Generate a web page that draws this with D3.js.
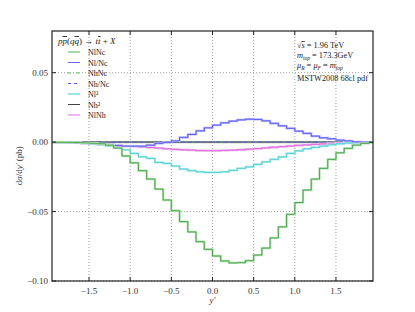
<!DOCTYPE html>
<html>
<head>
<meta charset="utf-8">
<script src="https://cdn.jsdelivr.net/npm/d3@7"></script>
<style>
  body { margin: 0; background: #fff; }
  text { font-family: "Liberation Serif", "DejaVu Serif", serif; }
</style>
</head>
<body>
<div id="chart"></div>
<script>
// bin left edges (width 0.1)
var binEdges = [-2.0, -1.9, -1.8, -1.7, -1.6, -1.5, -1.4, -1.3, -1.2, -1.1,
  -1.0, -0.9, -0.8, -0.7, -0.6, -0.5, -0.4, -0.3, -0.2, -0.1,
  0.0, 0.1, 0.2, 0.3, 0.4, 0.5, 0.6, 0.7, 0.8, 0.9,
  1.0, 1.1, 1.2, 1.3, 1.4, 1.5, 1.6, 1.7, 1.8, 1.9];
var binWidth = 0.1;

// series (pb per bin)
var NlNc = [0, -0.0001, -0.0002, -0.0003, -0.0005, -0.0008, -0.0012, -0.0022, -0.0043, -0.0100,
  -0.0149, -0.0206, -0.0266, -0.0338, -0.0417, -0.0494, -0.0573, -0.0647, -0.0717, -0.0772,
  -0.0820, -0.0856, -0.0870, -0.0868, -0.0854, -0.0813, -0.0763, -0.0690, -0.0610, -0.0520,
  -0.0435, -0.0345, -0.0266, -0.0189, -0.0124, -0.0077, -0.0045, -0.0022, -0.0009, -0.0003];
var NlOverNc = [0, -0.0001, -0.0002, -0.0005, -0.0007, -0.0009, -0.0014, -0.0019, -0.0025, -0.0029,
  -0.0029, -0.0029, -0.0022, -0.0009, -0.0002, 0.0009, 0.0034, 0.0055, 0.0081, 0.0103,
  0.0122, 0.0139, 0.0151, 0.0160, 0.0165, 0.0163, 0.0153, 0.0135, 0.0117, 0.0099,
  0.0079, 0.0063, 0.0043, 0.0031, 0.0024, 0.0014, 0.0009, 0.0002, 0.0000, 0];
var NhNc = [0, 0, 0, 0, 0, 0, 0, 0, 0, 0, 0, 0, 0, 0, 0, 0, 0, 0, 0, 0,
  0, 0, 0, 0, 0, 0, 0, 0, 0, 0, 0, 0, 0, 0, 0, 0, 0, 0, 0, 0];
var NhOverNc = [0, 0, 0, 0, 0, 0, 0, 0, 0, 0, 0, 0, 0, 0, 0, 0, 0, 0, 0, 0,
  0, 0, 0, 0, 0, 0, 0, 0, 0, 0, 0, 0, 0, 0, 0, 0, 0, 0, 0, 0];
var Nl2 = [0, -0.0001, -0.0002, -0.0004, -0.0007, -0.0011, -0.0018, -0.0027, -0.0041, -0.0056,
  -0.0081, -0.0106, -0.0117, -0.0146, -0.0153, -0.0173, -0.0194, -0.0206, -0.0214, -0.0218,
  -0.0218, -0.0214, -0.0204, -0.0189, -0.0178, -0.0160, -0.0142, -0.0124, -0.0106, -0.0081,
  -0.0063, -0.0048, -0.0038, -0.0029, -0.0019, -0.0012, -0.0007, -0.0004, -0.0001, 0];
var Nh2 = [0, 0, 0, 0, 0, 0, 0, 0, 0, 0, 0, 0, 0, 0, 0, 0, 0, 0, 0, 0,
  0, 0, 0, 0, 0, 0, 0, 0, 0, 0, 0, 0, 0, 0, 0, 0, 0, 0, 0, 0];
var NlNh = [0, -0.0002, -0.0004, -0.0006, -0.0009, -0.0012, -0.0015, -0.0019, -0.0023, -0.0027,
  -0.0031, -0.0035, -0.0039, -0.0043, -0.0048, -0.0052, -0.0056, -0.0058, -0.0061, -0.0062,
  -0.0062, -0.0060, -0.0058, -0.0055, -0.0051, -0.0047, -0.0042, -0.0037, -0.0033, -0.0028,
  -0.0023, -0.0020, -0.0016, -0.0013, -0.0010, -0.0008, -0.0006, -0.0004, -0.0002, 0];

var xTicks = [-1.5, -1.0, -0.5, 0.0, 0.5, 1.0, 1.5];
var yTicks = [-0.10, -0.05, 0.00, 0.05];

var legendLabels = ["NlNc", "Nl/Nc", "NhNc", "Nh/Nc", "Nl²", "Nh²", "NlNh"];

var W = 415, H = 312;
var margin = { top: 31, right: 42, bottom: 31, left: 52 };
var width = W - margin.left - margin.right,
  height = H - margin.top - margin.bottom;

var svg = d3.select("#chart").append("svg")
  .attr("width", W).attr("height", H);

var g = svg.append("g")
  .attr("transform", "translate(" + margin.left + "," + margin.top + ")");

var x = d3.scaleLinear().domain([-1.95, 1.95]).range([0, width]);
var y = d3.scaleLinear().domain([-0.10, 0.08]).range([height, 0]);

// grid
g.append("g").selectAll("line").data(xTicks).enter().append("line")
  .attr("x1", function (d) { return x(d); }).attr("x2", function (d) { return x(d); })
  .attr("y1", 0).attr("y2", height)
  .attr("stroke", "#888").attr("stroke-width", 0.8).attr("stroke-dasharray", "1,2");
g.append("g").selectAll("line").data(yTicks).enter().append("line")
  .attr("y1", function (d) { return y(d); }).attr("y2", function (d) { return y(d); })
  .attr("x1", 0).attr("x2", width)
  .attr("stroke", "#888").attr("stroke-width", 0.8).attr("stroke-dasharray", "1,2");

g.append("clipPath").attr("id", "clip").append("rect")
  .attr("width", width).attr("height", height);

var plot = g.append("g").attr("clip-path", "url(#clip)");

var stepLine = d3.line()
  .x(function (d) { return x(d[0]); })
  .y(function (d) { return y(d[1]); })
  .curve(d3.curveStepAfter);

function pts(vals) {
  var p = binEdges.map(function (e, i) { return [e, vals[i]]; });
  p.push([binEdges[binEdges.length - 1] + binWidth, vals[vals.length - 1]]);
  return p;
}

// zero-ish series first
plot.append("path").attr("d", stepLine(pts(Nh2)))
  .attr("fill", "none").attr("stroke", "#aaa").attr("stroke-width", 2.2);
plot.append("path").attr("d", stepLine(pts(Nh2)))
  .attr("fill", "none").attr("stroke", "#444").attr("stroke-width", 0.9);
plot.append("path").attr("d", stepLine(pts(NhNc)))
  .attr("fill", "none").attr("stroke", "#5aaa5a").attr("stroke-width", 0.9)
  .attr("stroke-dasharray", "4,2,1,2");
plot.append("path").attr("d", stepLine(pts(NhOverNc)))
  .attr("fill", "none").attr("stroke", "#5a5aee").attr("stroke-width", 0.9)
  .attr("stroke-dasharray", "4,3");

var series = [
  { v: NlNh, light: "#f0b8f0", dark: "#d860d8" },
  { v: Nl2, light: "#b4eeee", dark: "#48cccc" },
  { v: NlOverNc, light: "#b8b8ff", dark: "#5555ee" },
  { v: NlNc, light: "#b4e0b4", dark: "#44a044" }
];
series.forEach(function (s) {
  plot.append("path").attr("d", stepLine(pts(s.v)))
    .attr("fill", "none").attr("stroke", s.light).attr("stroke-width", 2.3);
  plot.append("path").attr("d", stepLine(pts(s.v)))
    .attr("fill", "none").attr("stroke", s.dark).attr("stroke-width", 0.9);
});

// frame
g.append("rect").attr("width", width).attr("height", height)
  .attr("fill", "none").attr("stroke", "#222").attr("stroke-width", 1.2);

// inward ticks all sides
var tk = g.append("g").attr("stroke", "#222").attr("stroke-width", 1);
xTicks.forEach(function (d) {
  tk.append("line").attr("x1", x(d)).attr("x2", x(d)).attr("y1", height).attr("y2", height - 4);
  tk.append("line").attr("x1", x(d)).attr("x2", x(d)).attr("y1", 0).attr("y2", 4);
});
yTicks.forEach(function (d) {
  tk.append("line").attr("y1", y(d)).attr("y2", y(d)).attr("x1", 0).attr("x2", 4);
  tk.append("line").attr("y1", y(d)).attr("y2", y(d)).attr("x1", width).attr("x2", width - 4);
});

var fmt = function (d) { return (d < 0 ? "\u2212" : "") + Math.abs(d).toFixed(1); };
var fmtY = function (d) { return (d < 0 ? "\u2212" : "") + Math.abs(d).toFixed(2); };

g.append("g").selectAll("text").data(xTicks).enter().append("text")
  .attr("x", function (d) { return x(d); }).attr("y", height + 13)
  .attr("text-anchor", "middle").attr("font-size", 9).attr("fill", "#333")
  .text(fmt);
g.append("g").selectAll("text").data(yTicks).enter().append("text")
  .attr("x", -4).attr("y", function (d) { return y(d) + 3; })
  .attr("text-anchor", "end").attr("font-size", 9).attr("fill", "#333")
  .text(fmtY);

// axis labels
var yl = svg.append("text")
  .attr("transform", "translate(22," + (margin.top + y(-0.017)) + ") rotate(-90)")
  .attr("text-anchor", "middle").attr("font-size", 9).attr("fill", "#333");
yl.append("tspan").text("d");
yl.append("tspan").attr("font-style", "italic").text("σ");
yl.append("tspan").text("/d");
yl.append("tspan").attr("font-style", "italic").text("y′");
yl.append("tspan").text("  (pb)");

svg.append("text").attr("x", margin.left + x(0)).attr("y", H - 9)
  .attr("text-anchor", "middle").attr("font-size", 9).attr("font-style", "italic")
  .attr("fill", "#333").text("y′");

// process title
var tt = g.append("text").attr("x", 6).attr("y", 13).attr("font-size", 9).attr("fill", "#222");
function bar(t, s) {
  t.append("tspan").attr("font-style", "italic").attr("text-decoration", "overline").text(s);
}
tt.append("tspan").attr("font-style", "italic").text("p");
bar(tt, "p");
tt.append("tspan").text("(");
tt.append("tspan").attr("font-style", "italic").text("q");
bar(tt, "q");
tt.append("tspan").text(") \u2192 ");
tt.append("tspan").attr("font-style", "italic").text("t");
bar(tt, "t");
tt.append("tspan").text(" + ");
tt.append("tspan").attr("font-style", "italic").text("X");

// legend
var legStyles = [
  { c: "#88cc88", w: 1.5, dash: null },
  { c: "#6666ee", w: 1, dash: null },
  { c: "#88cc88", w: 1.5, dash: "3,2,1,2" },
  { c: "#5555ee", w: 1, dash: "3,3" },
  { c: "#99e6e6", w: 2, dash: null },
  { c: "#444", w: 1, dash: null },
  { c: "#e070e0", w: 1, dash: null }
];
var leg = g.append("g").attr("transform", "translate(16,21)");
legendLabels.forEach(function (lab, i) {
  var yy = i * 10.5;
  var st = legStyles[i];
  var ln = leg.append("line").attr("x1", 0).attr("x2", 12).attr("y1", yy).attr("y2", yy)
    .attr("stroke", st.c).attr("stroke-width", st.w);
  if (st.dash) ln.attr("stroke-dasharray", st.dash);
  leg.append("text").attr("x", 20).attr("y", yy + 3).attr("font-size", 8).attr("fill", "#222")
    .text(lab);
});

// parameters box
var info = g.append("g").attr("transform", "translate(" + (width - 76) + ",17)")
  .attr("font-size", 8.3).attr("fill", "#222");
var t1 = info.append("text").attr("y", 0);
t1.append("tspan").text("\u221A");
t1.append("tspan").attr("font-style", "italic").attr("text-decoration", "overline").text("s");
t1.append("tspan").text(" = 1.96 TeV");
var t2 = info.append("text").attr("y", 10);
t2.append("tspan").attr("font-style", "italic").text("m");
t2.append("tspan").attr("font-size", 5.5).attr("font-style", "italic").attr("dy", 2).text("top");
t2.append("tspan").attr("dy", -2).text(" = 173.3GeV");
var t3 = info.append("text").attr("y", 20);
t3.append("tspan").attr("font-style", "italic").text("μ");
t3.append("tspan").attr("font-size", 5.5).attr("font-style", "italic").attr("dy", 2).text("R");
t3.append("tspan").attr("dy", -2).text(" = ");
t3.append("tspan").attr("font-style", "italic").text("μ");
t3.append("tspan").attr("font-size", 5.5).attr("font-style", "italic").attr("dy", 2).text("F");
t3.append("tspan").attr("dy", -2).text(" = ");
t3.append("tspan").attr("font-style", "italic").text("m");
t3.append("tspan").attr("font-size", 5.5).attr("font-style", "italic").attr("dy", 2).text("top");
info.append("text").attr("y", 33).text("MSTW2008 68cl pdf");
</script>
</body>
</html>
